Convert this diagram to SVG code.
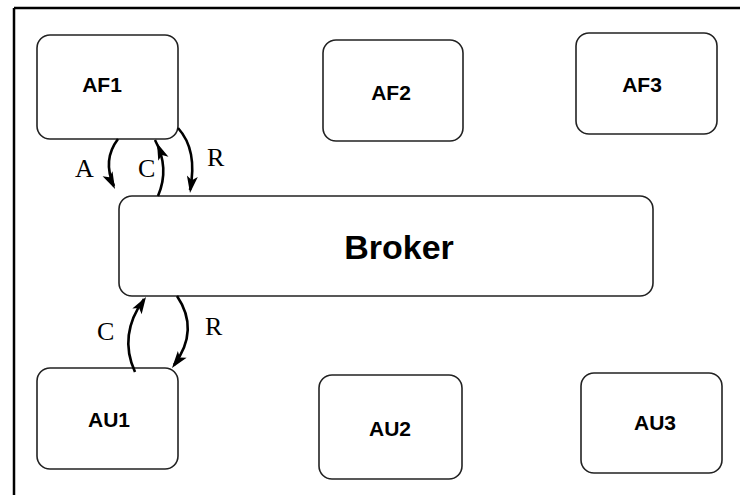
<svg xmlns="http://www.w3.org/2000/svg" xmlns:xlink="http://www.w3.org/1999/xlink" width="740" height="495" viewBox="0 0 740 495">
<style>
.box{fill:#fff;stroke:#222;stroke-width:1.6}
.lbl{font-family:"Liberation Sans",Arial,sans-serif;font-weight:bold;font-size:21px;fill:#000;text-anchor:middle}
.big{font-size:34px}
.conn{fill:none;stroke:#000;stroke-width:2.6}
.el{font-family:"Liberation Serif","Times New Roman",serif;font-size:26px;fill:#000}
</style>
<defs>
<path id="ah" d="M0,0 L-17,-5.5 L-13,0 L-17,5.5 Z" fill="#000"/>
</defs>
<rect width="740" height="495" fill="#fff"/>
<g id="frame">
<line x1="14" y1="8" x2="740" y2="8" stroke="#000" stroke-width="2.5"/>
<line x1="14" y1="8" x2="14" y2="495" stroke="#000" stroke-width="2.5"/>
</g>
<g id="AF1"><rect class="box" x="37" y="35" width="141" height="104" rx="13"/><text class="lbl" x="102" y="92">AF1</text></g>
<g id="AF2"><rect class="box" x="323" y="40" width="140" height="101" rx="13"/><text class="lbl" x="391" y="100">AF2</text></g>
<g id="AF3"><rect class="box" x="576" y="33" width="141" height="101" rx="13"/><text class="lbl" x="642" y="92">AF3</text></g>
<g id="Broker"><rect class="box" x="119" y="196" width="534" height="100" rx="13"/><text class="lbl big" x="399" y="259">Broker</text></g>
<g id="AU1"><rect class="box" x="37" y="368" width="141" height="101" rx="13"/><text class="lbl" x="109" y="427">AU1</text></g>
<g id="AU2"><rect class="box" x="319" y="375" width="143" height="104" rx="13"/><text class="lbl" x="390" y="436">AU2</text></g>
<g id="AU3"><rect class="box" x="581" y="373" width="141" height="100" rx="13"/><text class="lbl" x="655" y="430">AU3</text></g>
<g id="connectors">
<path class="conn" d="M118,139 Q102,160 114,186"/>
<use xlink:href="#ah" href="#ah" transform="translate(115,189) rotate(64)"/>
<path class="conn" d="M158,196 Q170,168 155,140"/>
<use xlink:href="#ah" href="#ah" transform="translate(157,143) rotate(-112)"/>
<path class="conn" d="M178,128 Q198,150 190,190"/>
<use xlink:href="#ah" href="#ah" transform="translate(190,193) rotate(98)"/>
<path class="conn" d="M135,372 Q118,335 144,299"/>
<use xlink:href="#ah" href="#ah" transform="translate(146,297) rotate(-58)"/>
<path class="conn" d="M177,296 Q200,330 174,365"/>
<use xlink:href="#ah" href="#ah" transform="translate(172,368) rotate(127)"/>
<text class="el" x="75" y="177">A</text>
<text class="el" x="138" y="177">C</text>
<text class="el" x="207" y="166">R</text>
<text class="el" x="97" y="340">C</text>
<text class="el" x="205" y="335">R</text>
</g>
</svg>
